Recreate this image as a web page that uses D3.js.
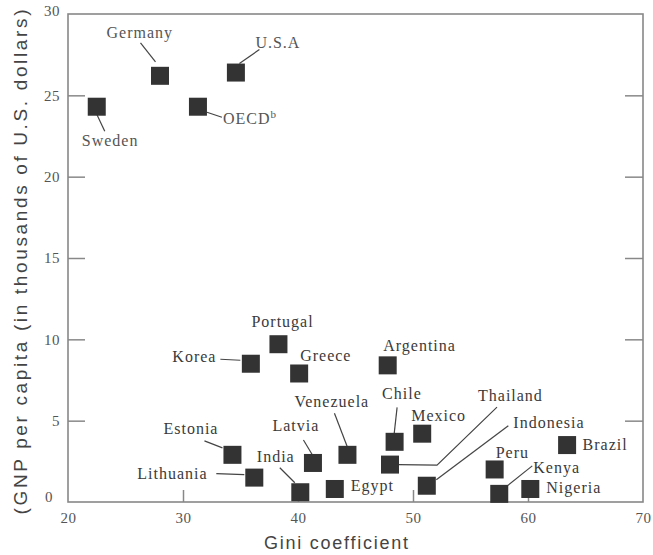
<!DOCTYPE html>
<html>
<head>
<meta charset="utf-8">
<script src="https://cdn.jsdelivr.net/npm/d3@7"></script>
<style>
  html, body { margin: 0; padding: 0; background: #fff; }
  svg { display: block; }
</style>
</head>
<body>
<svg id="chart" width="653" height="555"></svg>
<script>
// ---- data ----
const countries = ["Germany","U.S.A","Sweden","OECD","Portugal","Korea","Greece","Estonia","Lithuania","India","Latvia","Argentina","Venezuela","Chile","Mexico","Thailand","Egypt","Indonesia","Peru","Kenya","Brazil","Nigeria"];
const gini = [28.0, 34.6, 22.5, 31.3, 38.3, 35.9, 40.1, 34.3, 36.2, 40.2, 41.3, 47.8, 44.3, 48.4, 50.8, 48.0, 43.2, 51.2, 57.1, 57.5, 63.4, 60.2];
const gnp  = [26.2, 26.4, 24.3, 24.3, 9.7, 8.5, 7.9, 2.9, 1.5, 0.6, 2.4, 8.4, 2.9, 3.7, 4.2, 2.3, 0.8, 1.0, 2.0, 0.5, 3.5, 0.8];
const xTicks = [20, 30, 40, 50, 60, 70];
const yTicks = [0, 5, 10, 15, 20, 25, 30];
const xTitle = "Gini coefficient";
const yTitle = "(GNP per capita (in thousands of U.S. dollars)";

// ---- layout (label offsets relative to marker centre, leader lines) ----
const labelLayout = {
  "Germany":   {dx: -53.5, dy: -38,  line: [[-19.5,-33],[-4.5,-14]]},
  "U.S.A":     {dx: 19.5,  dy: -25,  line: [[3.5,-9],[23.5,-23]]},
  "Sweden":    {dx: -15,   dy: 39.5, line: [[0,7.5],[8,24.5]]},
  "OECD":      {dx: 25,    dy: 17.5, line: [[9,5.5],[24,10.5]], sup: "b"},
  "Portugal":  {dx: -27,   dy: -17.5},
  "Korea":     {dx: -78.5, dy: -1.5, line: [[-30.5,-4.5],[-10.5,-3.5]]},
  "Greece":    {dx: 1,     dy: -12},
  "Estonia":   {dx: -69,   dy: -21,  line: [[-28,-14],[-10,-7]]},
  "Lithuania": {dx: -117,  dy: 1,    line: [[-38,-4],[-10,-3]]},
  "India":     {dx: -43.5, dy: -30.5,line: [[-20.5,-24.5],[-5.5,-9.5]]},
  "Latvia":    {dx: -40.5, dy: -32,  line: [[-9.5,-23],[-0.5,-8]]},
  "Argentina": {dx: -4.5,  dy: -14},
  "Venezuela": {dx: -53,   dy: -47.5,line: [[-13,-41.5],[0,-7.5]]},
  "Chile":     {dx: -12.5, dy: -42.5,line: [[2.5,-34.5],[-0.5,-7.5]]},
  "Mexico":    {dx: -11,   dy: -12.5},
  "Thailand":  {dx: 88,    dy: -63.5,line: [[9,0],[47,0.5],[107,-57.5]]},
  "Egypt":     {dx: 16,    dy: 2.5},
  "Indonesia": {dx: 86.5,  dy: -58,  line: [[9.5,-6],[81.5,-60]]},
  "Peru":      {dx: 1,     dy: -11.5},
  "Kenya":     {dx: 34,    dy: -21,  line: [[8,-8],[33,-28]]},
  "Brazil":    {dx: 15.5,  dy: 5},
  "Nigeria":   {dx: 16,    dy: 4.5}
};

const mLeft = 68, mRight = 643, mTop = 14, mBottom = 502;
const sq = 18;
const ink = "#333";
const axisCol = "#888";

const svg = d3.select("#chart");
const x = d3.scaleLinear().domain([20, 70]).range([mLeft, mRight]);
const y = d3.scaleLinear().domain([0, 30]).range([mBottom, mTop]);

// bottom axis (ticks pointing inward)
const gx = svg.append("g").attr("transform", `translate(0,${mBottom})`)
  .call(d3.axisBottom(x).tickValues(xTicks).tickSizeInner(-12).tickSizeOuter(0).tickPadding(10));
gx.select(".domain").remove();
gx.selectAll(".tick line").attr("stroke", axisCol).attr("stroke-width", 1.5)
  .filter(d => d === 20 || d === 70).remove();
gx.selectAll(".tick text").attr("font-family", "Liberation Serif, serif")
  .attr("font-size", 15).attr("fill", "#555").attr("letter-spacing", 0.5);

// left axis
const gy = svg.append("g").attr("transform", `translate(${mLeft},0)`)
  .call(d3.axisLeft(y).tickValues(yTicks).tickSizeInner(-17).tickSizeOuter(0).tickPadding(8));
gy.select(".domain").remove();
gy.selectAll(".tick line").attr("stroke", axisCol).attr("stroke-width", 1.5)
  .filter(d => d === 0 || d === 30).remove();
gy.selectAll(".tick text").attr("font-family", "Liberation Serif, serif")
  .attr("font-size", 15).attr("fill", "#555").attr("letter-spacing", 0.5)
  .attr("text-anchor", "end")
  .attr("x", d => d === 0 ? -15 : -8)
  .attr("dy", d => d === 0 ? "-0.05em" : (d === 30 ? "0.1em" : "0.32em"));

// right axis (ticks only)
const gr = svg.append("g").attr("transform", `translate(${mRight},0)`)
  .call(d3.axisRight(y).tickValues(yTicks.filter(d => d > 0 && d < 30)).tickSizeInner(-18).tickSizeOuter(0).tickFormat(""));
gr.select(".domain").remove();
gr.selectAll(".tick line").attr("stroke", axisCol).attr("stroke-width", 1.5);

// frame
svg.append("rect")
  .attr("x", mLeft).attr("y", mTop)
  .attr("width", mRight - mLeft).attr("height", mBottom - mTop)
  .attr("fill", "none").attr("stroke", axisCol).attr("stroke-width", 1.6);

// axis titles
svg.append("text")
  .attr("x", 336).attr("y", 549)
  .attr("text-anchor", "middle")
  .attr("font-family", "Liberation Sans, sans-serif")
  .attr("font-size", 18).attr("fill", "#444")
  .attr("textLength", 144).attr("lengthAdjust", "spacing")
  .text(xTitle);

svg.append("text")
  .attr("transform", "translate(27,262) rotate(-90)")
  .attr("text-anchor", "middle")
  .attr("font-family", "Liberation Sans, sans-serif")
  .attr("font-size", 19).attr("fill", "#444")
  .attr("textLength", 505).attr("lengthAdjust", "spacing")
  .text(yTitle);

// data
const data = countries.map((c, i) => ({name: c, g: gini[i], v: gnp[i]}));

// leader lines
const lineGen = d3.line();
svg.append("g").selectAll("path")
  .data(data.filter(d => labelLayout[d.name].line))
  .join("path")
  .attr("d", d => lineGen(labelLayout[d.name].line.map(p => [x(d.g) + p[0], y(d.v) + p[1]])))
  .attr("fill", "none").attr("stroke", "#444").attr("stroke-width", 1.2);

// markers
svg.append("g").selectAll("rect")
  .data(data).join("rect")
  .attr("x", d => x(d.g) - sq / 2)
  .attr("y", d => y(d.v) - sq / 2)
  .attr("width", sq).attr("height", sq)
  .attr("fill", ink);

// labels
const labels = svg.append("g").selectAll("text")
  .data(data).join("text")
  .attr("x", d => x(d.g) + labelLayout[d.name].dx)
  .attr("y", d => y(d.v) + labelLayout[d.name].dy)
  .attr("font-family", "Liberation Serif, serif")
  .attr("font-size", 16)
  .attr("letter-spacing", 1)
  .attr("fill", d => d.v > 20 ? "#555" : "#3a3a3a");
labels.append("tspan").text(d => d.name);
labels.filter(d => labelLayout[d.name].sup)
  .append("tspan")
  .attr("font-size", 11)
  .attr("dy", -6)
  .text(d => labelLayout[d.name].sup);
</script>
</body>
</html>
